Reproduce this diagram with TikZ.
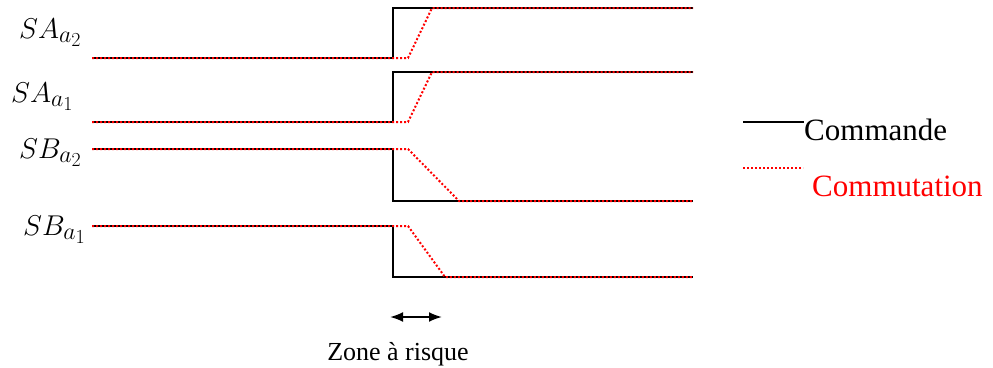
\documentclass[tikz,border=0pt]{standalone}
\usepackage{graphicx}
\usepackage{fontspec}
\setmainfont{Liberation Serif}
\usetikzlibrary{arrows.meta}

% signal names, math fonts stop at 24.88pt so scale them up
\newcommand{\signame}[1]{\scalebox{1.15}{$#1$}}

\tikzset{
    cmd/.style={black, line width=2pt},
    com/.style={red, line width=2pt, dash pattern=on 2pt off 2pt},
    sig/.style={anchor=base west, inner sep=0pt, font=\fontsize{24.88}{30}\selectfont},
    leg/.style={anchor=base west, inner sep=0pt, font=\fontsize{31}{34}\selectfont}
}

\begin{document}
\begin{tikzpicture}[x=1pt, y=-1pt]
    \useasboundingbox (0,0) rectangle (993,367);

    % signal names
    \node[sig] (saa2) at (19,38) {\signame{SA_{a_2}}};
    \node[sig] (saa1) at (11,102) {\signame{SA_{a_1}}};
    \node[sig] (sba2) at (19,158) {\signame{SB_{a_2}}};
    \node[sig] (sba1) at (23,235) {\signame{SB_{a_1}}};

    % SA_a2
    \draw[cmd] (92,58) -- (393,58) -- (393,8) -- (693,8);
    \draw[com] (92,58) -- (408,58) -- (432,8) -- (693,8);
    % SA_a1
    \draw[cmd] (92,122) -- (393,122) -- (393,72) -- (693,72);
    \draw[com] (92,122) -- (408,122) -- (432,72) -- (693,72);
    % SB_a2
    \draw[cmd] (92,149) -- (393,149) -- (393,201) -- (693,201);
    \draw[com] (92,149) -- (408,149) -- (459,201) -- (693,201);
    % SB_a1
    \draw[cmd] (92,226) -- (393,226) -- (393,277) -- (693,277);
    \draw[com] (92,226) -- (408,226) -- (445,277) -- (693,277);

    % legend
    \coordinate (l1) at (743,122);
    \coordinate (l2) at (743,168);
    \node[leg] (cmdtxt) at (804,140) {Commande};
    \node[leg, red] (comtxt) at (812,196) {Commutation};
    \draw[black, line width=1.5pt] (l1) -- (l1 -| cmdtxt.west);
    \draw[red, line width=1.5pt, dash pattern=on 2pt off 2pt] (l2) -- ++(60,0);

    % risk zone
    \coordinate (z1) at (390,317);
    \coordinate (z2) at (442,317);
    \draw[line width=2pt, {Latex[length=13pt,width=10pt]}-{Latex[length=13pt,width=10pt]}] (z1) -- (z2);
    \node[anchor=base, inner sep=0pt, font=\fontsize{26}{30}\selectfont] (zone) at (398,360) {Zone à risque};
\end{tikzpicture}
\end{document}
